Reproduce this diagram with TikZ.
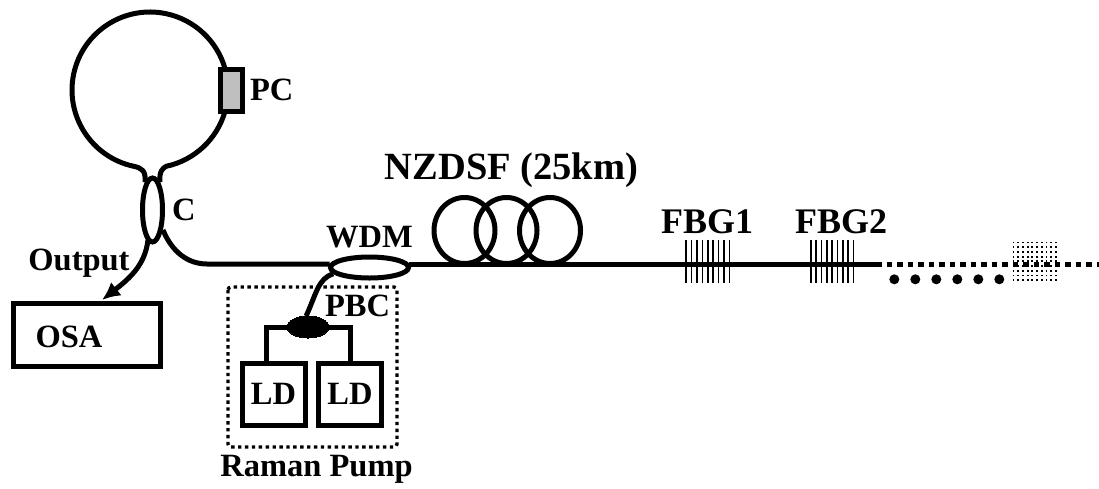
\documentclass[tikz,border=0pt]{standalone}
\usepackage{fontspec}
\setmainfont{Liberation Serif}
\usetikzlibrary{arrows.meta, positioning, shapes.geometric}

\begin{document}
\begin{tikzpicture}[
    x=1pt, y=1pt,
    >={Latex[length=18pt,width=17pt]},
    line width=5pt,
    every node/.style={font=\fontsize{32.5}{33}\selectfont\bfseries, inner sep=0pt},
    devbox/.style={draw, rectangle, line width=5pt},
    lens/.style={draw, ellipse, fill=white, inner sep=0pt},
    grating/.style={line width=1.5pt},
]
\useasboundingbox (0,-488) rectangle (1099,0);

% Coupler and ring
\node[lens, minimum width=20pt, minimum height=64pt] (coupler) at (152.5,-210) {};
\node[anchor=west] (clabel) at (169.5,-209.5) {C};
\draw (coupler.105) .. controls (146,-171) and (142,-168) .. (133.8,-166.3)
    arc[start angle=258, end angle=16, radius=78];
\draw (coupler.75) .. controls (159,-171) and (163,-168) .. (166.2,-166.3)
    arc[start angle=282, end angle=344, radius=78];

% Polarisation controller
\node[devbox, fill=black!25, minimum width=22pt, minimum height=42pt] (pc) at (231,-90) {};
\node[right=3pt of pc] (pclabel) {PC};

% Output to the analyser
\node[devbox, minimum width=147pt, minimum height=63pt] (osa) at (86.5,-334.5) {};
\node (osalabel) at (69,-337) {OSA};
\node (outlabel) at (79,-263.5) {Output};
\coordinate (osatip) at (102,-300);
\draw[->] (148,-240) .. controls (145,-265) and (130,-278) .. (osatip);

% Main fibre
\node[lens, minimum width=78pt, minimum height=21pt] (wdm) at (369.5,-267.5) {};
\node[above=4pt of wdm] (wdmlabel) {WDM};
\coordinate (fibreend) at (876,-264);
\coordinate (bend) at (207,-264);
\draw (163,-230) .. controls (172,-252) and (188,-264) .. (bend) -- (wdm.175 |- bend);
\draw (wdm.5 |- fibreend) -- (fibreend);

% NZDSF coil, three turns on the line
\foreach \coilx in {464.5, 506.5, 550} {
    \draw (\coilx,-230.5) ellipse (30.5 and 33);
}
\node (nzlabel) at (511.5,-170) [font=\fontsize{38.5}{39}\selectfont\bfseries] {NZDSF (25km)};

% Gratings
\foreach \gx in {0,...,8} {
    \draw[grating] (686.2+5.4*\gx,-240) -- (686.2+5.4*\gx,-283);
    \draw[grating] (810.8+5.33*\gx,-240) -- (810.8+5.33*\gx,-283);
}
\node (fbg1) at (707,-221.5) [font=\fontsize{36}{36}\selectfont\bfseries] {FBG1};
\node (fbg2) at (841,-221.5) [font=\fontsize{36}{36}\selectfont\bfseries] {FBG2};

% Rest of the line, dotted
\draw[dash pattern=on 5.5pt off 5pt, line width=5pt] (fibreend) -- (1099,-264);
\foreach \dotx in {0,...,5} {
    \fill (894.3+21*\dotx,-279.3) circle (5);
}
\foreach \ix in {0,...,9} {
    \foreach \iy in {0,...,8} {
        \fill (1012.6+4.7*\ix,-241.6-4.7*\iy) rectangle +(1.8,-1.8);
    }
}

% Raman pump
\node[draw, ellipse, fill=black, minimum width=42pt, minimum height=22pt, line width=0pt] (pbc) at (308,-327) {};
\node (pbclabel) at (357.5,-305.5) {PBC};
\node[devbox, minimum width=63pt, minimum height=62pt] (ld1) at (273.5,-394) {LD};
\node[devbox, minimum width=63pt, minimum height=62pt] (ld2) at (350,-394) {LD};
\draw (pbc.west) -| (ld1.north -| 266,0);
\draw (pbc.east) -| (ld2.north -| 350,0);
\draw (pbc.100) .. controls (316,-295) and (318,-278) .. (wdm.190);
\draw[line width=3.4pt, dash pattern=on 3.4pt off 3.5pt, rounded corners=3pt] (228,-287) rectangle (397,-447);
\node (ramanlabel) at (316.5,-469) {Raman Pump};
\end{tikzpicture}
\end{document}
